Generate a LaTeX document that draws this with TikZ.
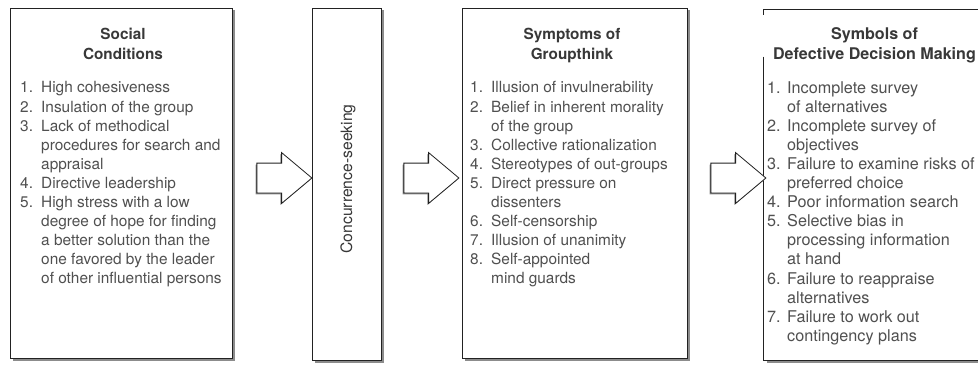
\documentclass[tikz,border=0pt]{standalone}
\usepackage{fontspec}
\setmainfont{TeX Gyre Heros}
\usetikzlibrary{shapes.arrows,shadows}
\definecolor{txt}{HTML}{505050}
\definecolor{ttl}{HTML}{383838}
\definecolor{edge}{HTML}{222222}
\definecolor{shd}{HTML}{8C8C8C}
\newcommand{\itm}[2]{\makebox[21pt][l]{#1}#2}
\newcommand{\cnt}[1]{\hspace*{21pt}#1}
\newcommand{\itmb}[2]{\makebox[20pt][l]{#1}#2}
\newcommand{\cntb}[1]{\hspace*{20pt}#1}
\begin{document}
\begin{tikzpicture}[x=1pt,y=-1pt,
  panel/.style={draw=edge, line width=0.8pt, fill=white, inner sep=0pt,
    drop shadow={shadow xshift=2.5pt, shadow yshift=-2.5pt, fill=shd, opacity=1}},
  heading/.style={anchor=north, align=center, inner sep=0pt, text=ttl,
    font=\fontsize{15.3}{20}\selectfont\bfseries},
  itemlist/.style={anchor=north west, align=left, inner sep=0pt, text=txt,
    font=\fontsize{15.4}{19.1}\selectfont},
  blockarrow/.style={single arrow, draw=edge, line width=0.8pt, fill=white,
    minimum height=55pt, inner xsep=0pt, inner ysep=14.5pt,
    single arrow head extend=10.5pt, single arrow tip angle=80,
    drop shadow={shadow xshift=-1.2pt, shadow yshift=-1.5pt, fill=shd, opacity=1}}]
\useasboundingbox (0,0) rectangle (978,369);
\clip (0,0) rectangle (978,369);

% panels
\node[panel, minimum width=222pt, minimum height=350pt] (b1) at (121,183) {};
\node[panel, minimum width=69pt, minimum height=352pt] (b2) at (346.5,184) {};
\node[panel, minimum width=225pt, minimum height=350pt] (b3) at (574.5,183) {};
\node[panel, draw=none, minimum width=250pt, minimum height=350pt] (b4) at (889,185) {};
\draw[draw=edge, line width=0.8pt] (b4.north east) -- (b4.north west) -- ([yshift=-5pt]b4.north west);
\draw[draw=edge, line width=0.8pt] ([yshift=-47pt]b4.north west) -- (b4.south west) -- (b4.south east);

% block arrows
\node[blockarrow] (a1) at (275.5,178) {};
\node[blockarrow] (a2) at (422.5,178) {};
\node[blockarrow] (a3) at (729.5,178) {};

% panel 1
\node[heading] (t1) at (123,27.5) {Social\\Conditions};
\node[itemlist] (l1) at (20,81.5) {%
\itm{1.}{High cohesiveness}\\
\itm{2.}{Insulation of the group}\\
\itm{3.}{Lack of methodical}\\
\cnt{procedures for search and}\\
\cnt{appraisal}\\
\itm{4.}{Directive leadership}\\
\itm{5.}{High stress with a low}\\
\cnt{degree of hope for finding}\\
\cnt{a better solution than the}\\
\cnt{one favored by the leader}\\
\cnt{of other influential persons}};

% panel 2
\node[rotate=90, inner sep=0pt, text=ttl, font=\fontsize{15.7}{19}\selectfont] (cs) at (348,179) {Concurrence-seeking};

% panel 3
\node[heading] (t3) at (572,27.5) {Symptoms of\\Groupthink};
\node[itemlist] (l3) at (470,81.5) {%
\itm{1.}{Illusion of invulnerability}\\
\itm{2.}{Belief in inherent morality}\\
\cnt{of the group}\\
\itm{3.}{Collective rationalization}\\
\itm{4.}{Stereotypes of out-groups}\\
\itm{5.}{Direct pressure on}\\
\cnt{dissenters}\\
\itm{6.}{Self-censorship}\\
\itm{7.}{Illusion of unanimity}\\
\itm{8.}{Self-appointed}\\
\cnt{mind guards}};

% panel 4
\node[heading, font=\fontsize{16.1}{20}\selectfont\bfseries] (t4) at (874.5,27) {Symbols of\\Defective Decision Making};
\node[itemlist, font=\fontsize{16.2}{19.1}\selectfont] (l4) at (767,81) {%
\itmb{1.}{Incomplete survey}\\
\cntb{of alternatives}\\
\itmb{2.}{Incomplete survey of}\\
\cntb{objectives}\\
\itmb{3.}{Failure to examine risks of}\\
\cntb{preferred choice}\\
\itmb{4.}{Poor information search}\\
\itmb{5.}{Selective bias in}\\
\cntb{processing information}\\
\cntb{at hand}\\
\itmb{6.}{Failure to reappraise}\\
\cntb{alternatives}\\
\itmb{7.}{Failure to work out}\\
\cntb{contingency plans}};
\end{tikzpicture}
\end{document}
